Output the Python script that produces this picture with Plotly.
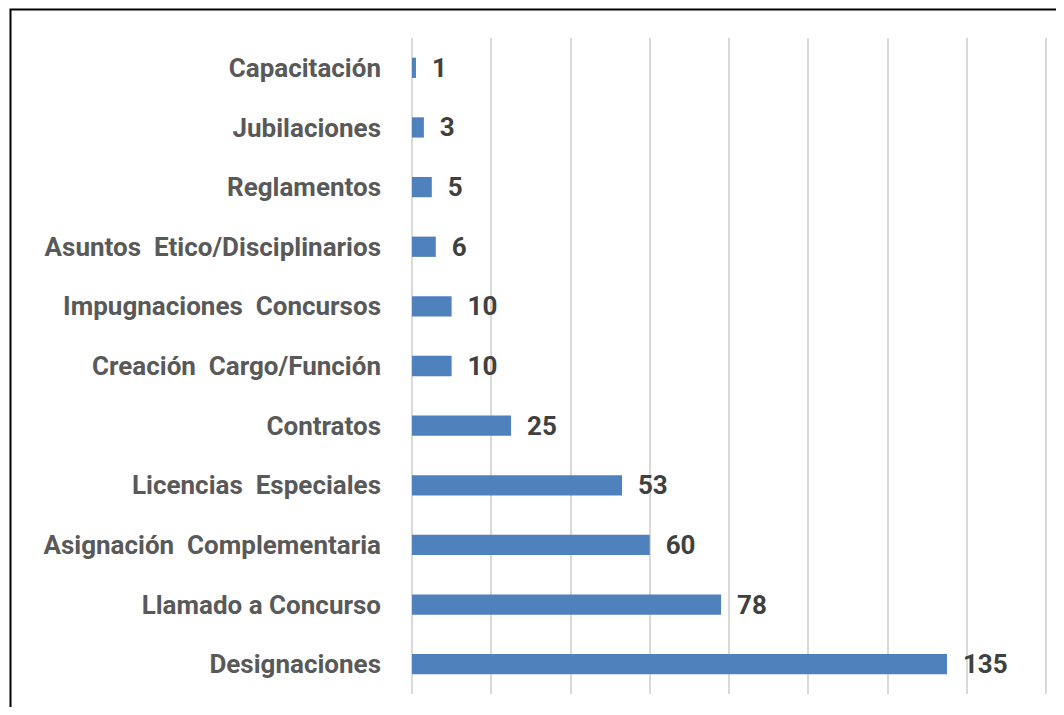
import plotly.graph_objects as go

categories = ["Designaciones", "Llamado a Concurso", "Asignación  Complementaria",
              "Licencias  Especiales", "Contratos", "Creación  Cargo/Función",
              "Impugnaciones  Concursos", "Asuntos  Etico/Disciplinarios",
              "Reglamentos", "Jubilaciones", "Capacitación"]
values = [135, 78, 60, 53, 25, 10, 10, 6, 5, 3, 1]

# page body has an 8px margin, so the figure is sized to fit inside it
W, H = 1048, 699
L, R, T, B = 404, 6, 30, 13
pw, ph = W - L - R, H - T - B

fig = go.Figure(go.Bar(
    x=values, y=categories, orientation="h",
    marker=dict(color="#4F81BD", line=dict(width=0)),
    width=0.34,
    texttemplate="  %{x}", textposition="outside", constraintext="none",
    textfont=dict(family="Roboto", size=26, color="#404040", weight="bold"),
    cliponaxis=False,
))

fig.update_layout(
    width=W, height=H,
    margin=dict(l=L, r=R, t=T, b=B, autoexpand=False),
    paper_bgcolor="white", plot_bgcolor="white",
    showlegend=False,
    xaxis=dict(range=[0, 161], tick0=0, dtick=20, showticklabels=False, showgrid=True,
               gridcolor="#D9D9D9", gridwidth=1.5, zeroline=True,
               zerolinecolor="#D9D9D9", zerolinewidth=1.5, fixedrange=True),
    yaxis=dict(categoryorder="array", categoryarray=categories,
               tickfont=dict(family="Roboto", size=26, color="#595959", weight="bold"),
               ticks="", ticklabelstandoff=30, showgrid=False, zeroline=False),
    shapes=[dict(type="rect", xref="paper", yref="paper",
                 x0=(2.5 - L) / pw, x1=(1100 - L) / pw,
                 y0=-(60 + B) / ph, y1=1 + (T - 1.5) / ph,
                 line=dict(color="black", width=2), layer="above")],
)

fig.write_html("out.html")
